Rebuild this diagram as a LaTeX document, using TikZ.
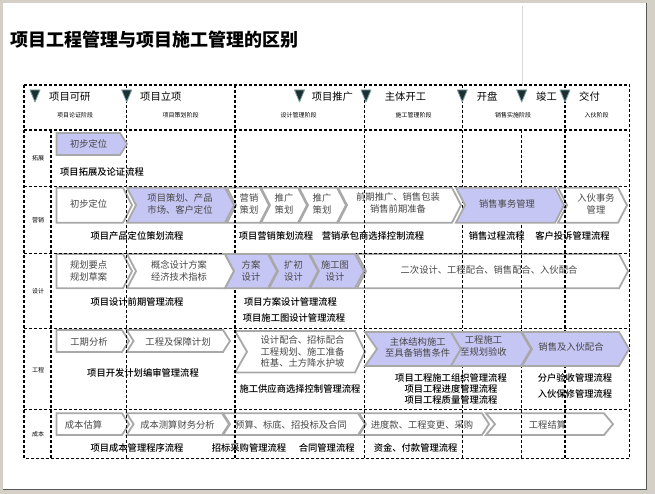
\documentclass[tikz,border=0pt]{standalone}
\usepackage{fontspec}
\setmainfont{Noto Sans CJK SC}
\newfontfamily\flowfont{Noto Sans CJK SC}[UprightFont=* Medium]
\usepackage{xcolor}

\definecolor{frameback}{RGB}{212,208,200}
\definecolor{chevline}{RGB}{168,168,168}
\definecolor{chevfill}{RGB}{198,198,244}
\definecolor{chevtext}{RGB}{70,70,70}
\definecolor{markfill}{RGB}{28,48,52}
\definecolor{markline}{RGB}{125,160,160}

% one chevron: style, left x, tip x, top y, bottom y, notch depth, tip depth
\newcommand{\chev}[7]{%
  \draw[#1] (#2,#4) -- ({#3-#7},#4) -- (#3,{(#4+#5)/2}) -- ({#3-#7},#5)
    -- (#2,#5) -- ({#2+#6},{(#4+#5)/2}) -- cycle;}

\tikzset{
  wchev/.style={draw=chevline, line width=1.8pt, fill=white, line join=miter},
  pchev/.style={wchev, fill=chevfill},
  ctext/.style={font=\fontsize{9.3}{11.5}\selectfont, text=chevtext, align=center, inner sep=0pt},
  flow/.style={font=\flowfont\fontsize{9.3}{10.7}\selectfont, align=center, inner sep=0pt},
  phase/.style={font=\fontsize{10.3}{12}\selectfont, anchor=west, inner sep=0pt},
  stage/.style={font=\fontsize{6}{7}\selectfont, inner sep=0pt},
  rowname/.style={font=\fontsize{6}{7}\selectfont, inner sep=0pt},
  phaseline/.style={line width=1.1pt, dash pattern=on 3pt off 2pt},
  phasemark/.style={fill=markfill, draw=markline, line width=0.8pt, line join=round}
}

\begin{document}
\begin{tikzpicture}[x=1pt,y=-1pt]
    \useasboundingbox (0,0) rectangle (655,494);
    \fill[frameback] (0,0) rectangle (655,494);
    \fill[white] (3,3) rectangle (646,489);
    \draw[black!65, line width=1.5pt] (646.5,3) -- (646.5,489.5) -- (3,489.5);
    \draw[black!15, line width=0.6pt] (522,6) -- (522,86);

    \node[anchor=west, inner sep=0pt, font=\fontsize{18}{20}\selectfont\bfseries] (title) at (10,40) {项目工程管理与项目施工管理的区别};

    % white chevrons
    \chev{wchev}{56.5}{132}{187.7}{222.7}{0}{9}
    \node[ctext] (mk1) at (88.6,204) {初步定位};
    \chev{wchev}{227}{269}{187.7}{222.7}{9}{9}
    \node[ctext] (mk3) at (249,204) {营销\\策划};
    \chev{wchev}{261}{307}{187.7}{222.7}{9}{9}
    \node[ctext] (mk4) at (284,204) {推广\\策划};
    \chev{wchev}{299}{346}{187.7}{222.7}{9}{9}
    \node[ctext] (mk5) at (322,204) {推广\\策划};
    \chev{wchev}{338}{461}{187.7}{222.7}{9}{9}
    \node[ctext] (mk6) at (398,203) {前期推广、销售包装\\销售前期准备};
    \chev{wchev}{558}{627}{187.7}{222.7}{9}{9}
    \node[ctext] (mk8) at (596,204) {入伙事务\\管理};

    \chev{wchev}{56.5}{132}{254}{288.3}{0}{9}
    \node[ctext] (ds1) at (88.6,271) {规划要点\\规划草案};
    \chev{wchev}{127}{234}{254}{288.3}{9}{9}
    \node[ctext] (ds2) at (179,271) {概念设计方案\\经济技术指标};
    \chev{wchev}{357}{628}{254}{288.3}{9}{9}
    \node[ctext] (ds6) at (489,270) {二次设计、工程配合、销售配合、入伙配合};

    \chev{wchev}{56.5}{129}{330}{352}{0}{7}
    \node[ctext] (gc1) at (89,341.5) {工期分析};
    \chev{wchev}{126.6}{230}{330}{352}{7}{7}
    \node[ctext] (gc2) at (178,341.5) {工程及保障计划};
    \chev{wchev}{235}{365}{331}{372.5}{12}{10}
    \node[ctext] (gc3) at (302.5,351.5) {设计配合、招标配合\\工程规划、施工准备\\桩基、土方降水护坡};

    \chev{wchev}{56.5}{129}{413.3}{435}{0}{7}
    \node[ctext] (cb1) at (83.5,424.5) {成本估算};
    \chev{wchev}{126.6}{229}{413.3}{435}{7}{7}
    \node[ctext] (cb2) at (177.5,424.5) {成本测算财务分析};
    \chev{wchev}{223}{365}{413.3}{435}{7}{7}
    \node[ctext] (cb3) at (291,424.5) {预算、标底、招投标及合同};
    \chev{wchev}{359}{489}{413.3}{435}{7}{7}
    \node[ctext] (cb4) at (422,424.5) {进度款、工程变更、采购};
    \chev{wchev}{486}{613}{413.3}{435}{9}{9}
    \node[ctext] (cb5) at (547.5,424.5) {工程结算};

    % flow names under the chevrons
    \node[flow] (fl1) at (102,171.7) {项目拓展及论证流程};
    \node[flow] (fl2) at (137,236) {项目产品定位策划流程};
    \node[flow] (fl3) at (276,236) {项目营销策划流程};
    \node[flow] (fl4) at (373,236) {营销承包商选择控制流程};
    \node[flow] (fl5) at (496.7,236) {销售过程流程};
    \node[flow] (fl6) at (572.5,236) {客户投诉管理流程};
    \node[flow] (fl7) at (137,301.7) {项目设计前期管理流程};
    \node[flow] (fl8) at (290.5,301.7) {项目方案设计管理流程};
    \node[flow] (fl9) at (294,318.3) {项目施工图设计管理流程};
    \node[flow] (fl10) at (143,372.5) {项目开发计划编审管理流程};
    \node[flow] (fl11) at (300,389) {施工供应商选择控制管理流程};
    \node[flow] (fl12) at (451,388.8) {项目工程施工组织管理流程\\项目工程进度管理流程\\项目工程质量管理流程};
    \node[flow] (fl13) at (575,378.3) {分户验收管理流程};
    \node[flow] (fl14) at (575,394.3) {入伙保修管理流程};
    \node[flow] (fl15) at (137,447.7) {项目成本管理程序流程};
    \node[flow] (fl16) at (249,447.7) {招标采购管理流程};
    \node[flow] (fl17) at (326.7,447.7) {合同管理流程};
    \node[flow] (fl18) at (415.6,447.7) {资金、付款管理流程};

    % dashed grid
    \draw[phaseline] (24,85) rectangle (629.5,458.3);
    \foreach \y in {130,186.7,253.3,328.3,409.3}
        \draw[phaseline] (24,\y) -- (629.5,\y);
    \draw[phaseline] (51,130) -- (51,458.3);
    \foreach \x in {126.7,235,364.5,462.3,565}
        \draw[phaseline] (\x,85) -- (\x,458.3);
    \draw[phaseline] (521.3,130) -- (521.3,458.3);

    % lavender chevrons
    \chev{pchev}{56.5}{127}{133}{155}{0}{7}
    \node[ctext] (ex1) at (88.6,144.3) {初步定位};
    \chev{pchev}{127}{234}{187.7}{222.7}{9}{9}
    \node[ctext] (mk2) at (180,204) {项目策划、产品\\市场、客户定位};
    \chev{pchev}{456}{564}{187.7}{222.7}{9}{9}
    \node[ctext] (mk7) at (507,204) {销售事务管理};
    \chev{pchev}{225}{277}{254}{288.3}{9}{9}
    \node[ctext] (ds3) at (251,271) {方案\\设计};
    \chev{pchev}{269}{318}{254}{288.3}{9}{9}
    \node[ctext] (ds4) at (293.5,271) {扩初\\设计};
    \chev{pchev}{310}{364}{254}{288.3}{9}{9}
    \node[ctext] (ds5) at (335,271) {施工图\\设计};
    \chev{pchev}{365}{461}{332}{366}{12}{10}
    \node[ctext] (gc4) at (417.7,347.5) {主体结构施工\\至具备销售条件};
    \chev{pchev}{451}{531}{332}{366}{10}{10}
    \node[ctext] (gc5) at (483.5,346) {工程施工\\至规划验收};
    \chev{pchev}{522}{629}{332}{366}{10}{10}
    \node[ctext] (gc6) at (571,347) {销售及入伙配合};

    % header: phases and stages
    \foreach \x in {35,126.7,299.5,366,462.3,521.7,565}
        \draw[phasemark] (\x-5,90) -- (\x+5,90) -- (\x,102) -- cycle;
    \node[phase] (ph1) at (49,97) {项目可研};
    \node[phase] (ph2) at (140,97) {项目立项};
    \node[phase] (ph3) at (311.6,97) {项目推广};
    \node[phase] (ph4) at (384.7,97) {主体开工};
    \node[phase] (ph5) at (476.6,97) {开盘};
    \node[phase] (ph6) at (536,97) {竣工};
    \node[phase] (ph7) at (579,97) {交付};

    \node[stage] (st1) at (75.2,115.7) {项目论证阶段};
    \node[stage] (st2) at (180.5,115.7) {项目策划阶段};
    \node[stage] (st3) at (298.7,115.7) {设计管理阶段};
    \node[stage] (st4) at (413.5,115.7) {施工管理阶段};
    \node[stage] (st5) at (513,115.7) {销售实施阶段};
    \node[stage] (st6) at (596.5,115.7) {入伙阶段};

    \node[rowname] (rw1) at (38,158.3) {拓展};
    \node[rowname] (rw2) at (38,220) {营销};
    \node[rowname] (rw3) at (38,291) {设计};
    \node[rowname] (rw4) at (38,370) {工程};
    \node[rowname] (rw5) at (38,434.3) {成本};
\end{tikzpicture}
\end{document}
